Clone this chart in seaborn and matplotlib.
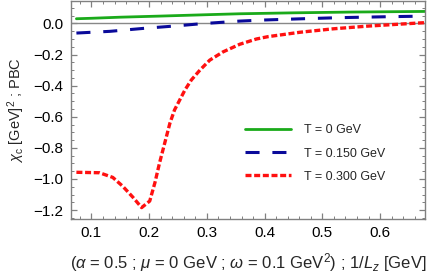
import numpy as np
import pandas as pd
import matplotlib
matplotlib.use("Agg")
import matplotlib.pyplot as plt
import seaborn as sns
from matplotlib.ticker import MultipleLocator

# Data
x_t0 = [0.074, 0.1, 0.15, 0.218, 0.3, 0.357, 0.45, 0.55, 0.678]
y_t0 = [0.030, 0.033, 0.040, 0.047, 0.056, 0.062, 0.068, 0.073, 0.077]

x_t150 = [0.074, 0.1, 0.132, 0.19, 0.25, 0.29, 0.357, 0.4, 0.466, 0.53, 0.612, 0.678]
y_t150 = [-0.062, -0.057, -0.051, -0.032, -0.015, -0.002, 0.015, 0.022, 0.030, 0.037, 0.043, 0.047]

x_t300 = [0.074, 0.114, 0.137, 0.154, 0.172, 0.187, 0.201, 0.210, 0.218, 0.227, 0.236,
          0.244, 0.253, 0.262, 0.273, 0.288, 0.305, 0.328, 0.357, 0.386, 0.406,
          0.461, 0.518, 0.576, 0.664, 0.678]
y_t300 = [-0.957, -0.96, -0.99, -1.046, -1.118, -1.184, -1.142, -1.024, -0.897, -0.769, -0.641,
          -0.556, -0.492, -0.428, -0.364, -0.300, -0.236, -0.183, -0.134, -0.100, -0.085,
          -0.057, -0.035, -0.018, 0.002, 0.005]

labels = ["T = 0 GeV", "T = 0.150 GeV", "T = 0.300 GeV"]
colors = ["#1aaa1a", "#0a0a9a", "#ff1010"]

sns.set_style("ticks")
plt.rcParams['font.family'] = ['Liberation Sans', 'DejaVu Sans']
plt.rcParams['mathtext.fontset'] = 'custom'
plt.rcParams['mathtext.rm'] = 'Liberation Sans'
plt.rcParams['mathtext.it'] = 'Liberation Sans:italic'

fig = plt.figure(figsize=(4.36, 2.73), dpi=100)
ax = fig.add_axes([0.162, 0.198, 0.813, 0.8])

ax.axhline(0, color="#888888", lw=1.0, zorder=1)

sns.lineplot(x=x_t0, y=y_t0, ax=ax, color=colors[0], lw=2.0, label=labels[0])
sns.lineplot(x=x_t150, y=y_t150, ax=ax, color=colors[1], lw=2.2, label=labels[1])
sns.lineplot(x=x_t300, y=y_t300, ax=ax, color=colors[2], lw=2.4, label=labels[2])
lines = ax.get_lines()
lines[2].set_dashes([4.6, 4.2])
lines[3].set_dashes([1.8, 0.8])

ax.set_xlim(0.064, 0.678)
ax.set_ylim(-1.257, 0.147)
ax.xaxis.set_minor_locator(MultipleLocator(0.02))
ax.yaxis.set_minor_locator(MultipleLocator(0.05))
ax.set_xticks([0.1, 0.2, 0.3, 0.4, 0.5, 0.6])
ax.set_xticklabels(["0.1", "0.2", "0.3", "0.4", "0.5", "0.6"])
ax.set_yticks([0.0, -0.2, -0.4, -0.6, -0.8, -1.0, -1.2])
ax.set_yticklabels(["0.0", "\u22120.2", "\u22120.4", "\u22120.6", "\u22120.8", "\u22121.0", "\u22121.2"])

for s in ax.spines.values():
    s.set_visible(True)
    s.set_color("#808080")
    s.set_linewidth(1.0)
ax.tick_params(which="both", direction="in", top=True, right=True, color="#808080",
               labelsize=11, labelcolor="black", pad=5)
ax.tick_params(which="major", length=4, width=0.9)
ax.tick_params(which="minor", length=2.2, width=0.7)

ax.set_ylabel(r"$\chi_{\rm c}$ [GeV]$^2$ ; PBC", fontsize=10.5, labelpad=5)
ax.set_xlabel(r"($\alpha$ = 0.5 ; $\mu$ = 0 GeV ; $\omega$ = 0.1 GeV$^2$) ; 1/$L_z$ [GeV]",
              fontsize=12, labelpad=8)

leg = ax.legend(loc="upper left", bbox_to_anchor=(0.46, 0.485), frameon=False,
                fontsize=9, handlelength=3.7, handletextpad=1.0, labelspacing=0.9)

fig.savefig("out.png", dpi=100)
